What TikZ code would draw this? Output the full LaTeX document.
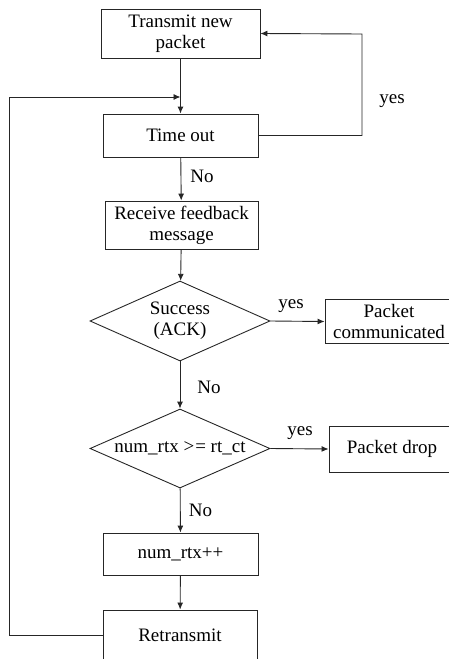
\documentclass[tikz,border=0pt]{standalone}
\usepackage{fontspec}
\setmainfont{Liberation Serif}
\usetikzlibrary{arrows.meta}
\usetikzlibrary{shapes}

\begin{document}
\begin{tikzpicture}[x=1pt,y=-1pt]
        \tikzset{step box/.style = {shape=rectangle,draw=black!85,line width=0.9pt,align=center,inner sep=0pt,font=\fontsize{19}{21}\selectfont}}
        \tikzset{decision/.style = {shape=diamond,draw=black!85,line width=0.9pt,align=center,inner sep=0pt,aspect=2.25,font=\fontsize{19}{21}\selectfont}}
        \tikzset{answer/.style = {font=\fontsize{19}{21}\selectfont}}
        \tikzset{edge/.style = {->,> = {Latex[length=7pt,width=6pt]},draw=black!85,line width=0.9pt}}
        \useasboundingbox (0,0) rectangle (448,659);
        % vertices
        \node[step box, minimum width=159pt, minimum height=49pt] (transmit) at (180.5,33.5) {Transmit new\\packet};
        \node[step box, minimum width=155pt, minimum height=43pt] (timeout) at (180.5,135.5) {Time out};
        \node[step box, minimum width=153pt, minimum height=48pt] (feedback) at (181.5,225) {Receive feedback\\message};
        \node[decision, minimum width=180pt, minimum height=80pt] (success) at (180,321) {Success\\(ACK)};
        \node[step box, minimum width=128pt, minimum height=44pt] (communicated) at (389,321.5) {Packet\\communicated};
        \node[decision, minimum width=180pt, minimum height=79pt] (limit) at (180,448.5) {num\_rtx >\kern1pt= rt\_ct};
        \node[step box, minimum width=126pt, minimum height=46pt] (drop) at (392,449) {Packet drop};
        \node[step box, minimum width=155pt, minimum height=42pt] (increment) at (180.5,554) {num\_rtx++};
        \node[step box, minimum width=154pt, minimum height=50pt] (retransmit) at (180,635) {Retransmit};
        % turning points of the two loops
        \coordinate (yesturn) at (362,34);
        \coordinate (backturn) at (9,97);
        \coordinate (merge) at (180.5,97);
        % branch labels
        \node[answer] (timeoutyes) at (392,101) {yes};
        \node[answer] (timeoutno) at (202,176) {No};
        \node[answer] (successyes) at (291,306) {yes};
        \node[answer] (successno) at (209,387) {No};
        \node[answer] (limityes) at (300,433) {yes};
        \node[answer] (limitno) at (200.5,510) {No};
        %edges
        \draw[edge] (transmit) to (timeout);
        \draw[edge] (timeout.east) -- (timeout.east -| yesturn) -- (yesturn) -- (transmit.east);
        \draw[edge] (timeout) to (feedback);
        \draw[edge] (feedback) to (success);
        \draw[edge] (success.east) to (communicated.west);
        \draw[edge] (success) to (limit);
        \draw[edge] (limit.east) to (drop.west);
        \draw[edge] (limit) to (increment);
        \draw[edge] (increment) to (retransmit);
        \draw[edge] (retransmit.west) -| (backturn) -- (merge);
    \end{tikzpicture}
\end{document}
